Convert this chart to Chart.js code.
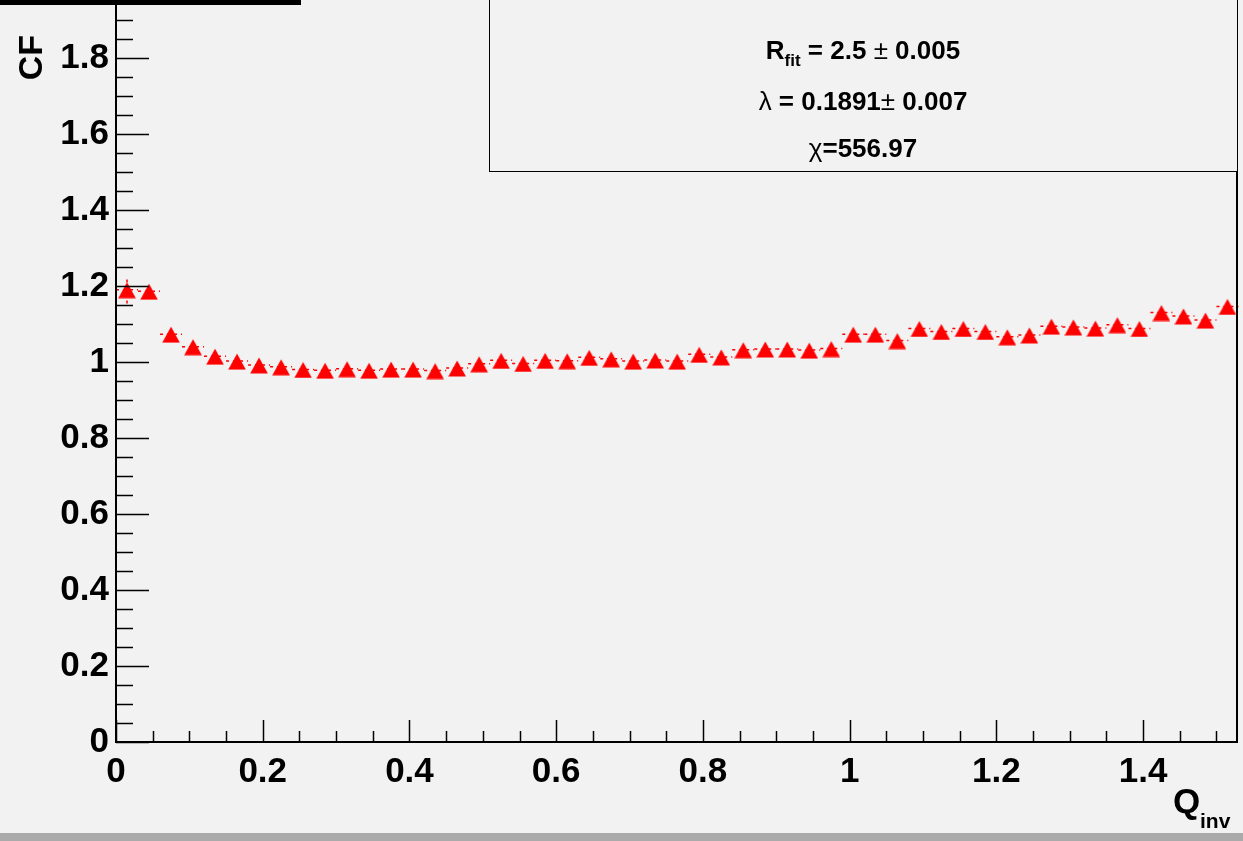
<!DOCTYPE html>
<html>
<head>
<meta charset="utf-8">
<script src="https://cdn.jsdelivr.net/npm/chart.js@4"></script>
<style>
  html, body { margin: 0; padding: 0; background: #f2f2f2; }
  #wrap { width: 1243px; height: 841px; position: relative; }
</style>
</head>
<body>
<div id="wrap"><canvas id="cf"></canvas></div>
<script>
// Data
const qInv = [0.015, 0.045, 0.075, 0.105, 0.135, 0.165, 0.195, 0.225, 0.255, 0.285,
  0.315, 0.345, 0.375, 0.405, 0.435, 0.465, 0.495, 0.525, 0.555, 0.585,
  0.615, 0.645, 0.675, 0.705, 0.735, 0.765, 0.795, 0.825, 0.855, 0.885,
  0.915, 0.945, 0.975, 1.005, 1.035, 1.065, 1.095, 1.125, 1.155, 1.185,
  1.215, 1.245, 1.275, 1.305, 1.335, 1.365, 1.395, 1.425, 1.455, 1.485, 1.515];
const cfValues = [1.191, 1.187, 1.074, 1.041, 1.016, 1.003, 0.993, 0.988, 0.981, 0.979,
  0.983, 0.979, 0.982, 0.982, 0.978, 0.985, 0.996, 1.005, 0.997, 1.005,
  1.004, 1.013, 1.009, 1.003, 1.006, 1.003, 1.021, 1.014, 1.033, 1.035,
  1.035, 1.032, 1.036, 1.074, 1.074, 1.057, 1.089, 1.081, 1.089, 1.081,
  1.067, 1.072, 1.095, 1.093, 1.090, 1.099, 1.089, 1.131, 1.122, 1.111, 1.147];
const cfErrors = [0.036, 0.015, 0.010, 0.008, 0.008, 0.008, 0.008, 0.008, 0.008, 0.008,
  0.008, 0.008, 0.008, 0.008, 0.008, 0.008, 0.008, 0.008, 0.008, 0.008,
  0.008, 0.008, 0.008, 0.008, 0.008, 0.008, 0.008, 0.008, 0.008, 0.008,
  0.008, 0.008, 0.008, 0.008, 0.008, 0.008, 0.008, 0.008, 0.008, 0.008,
  0.008, 0.008, 0.008, 0.008, 0.008, 0.008, 0.008, 0.008, 0.008, 0.008, 0.008];
const binHalfWidth = 0.015;
const xTicks = [0, 0.2, 0.4, 0.6, 0.8, 1, 1.2, 1.4];
const yTicks = [0, 0.2, 0.4, 0.6, 0.8, 1, 1.2, 1.4, 1.6, 1.8];

const FONT = '"Liberation Sans", Arial, Helvetica, sans-serif';

// Red up-triangle marker (centred like ROOT's marker)
const marker = document.createElement('canvas');
marker.width = 18; marker.height = 18;
(() => {
  const c = marker.getContext('2d');
  c.fillStyle = '#ff0000';
  c.beginPath();
  c.moveTo(9, 1.5);
  c.lineTo(17.8, 17.5);
  c.lineTo(0.2, 17.5);
  c.closePath();
  c.fill();
})();

// Background, frame pieces
const backdrop = {
  id: 'backdrop',
  beforeDraw(chart) {
    const ctx = chart.ctx;
    ctx.save();
    ctx.fillStyle = '#f2f2f2';
    ctx.fillRect(0, 0, chart.width, chart.height);
    ctx.fillStyle = '#aaaaaa';
    ctx.fillRect(0, 833, chart.width, chart.height - 833);
    ctx.restore();
  }
};

// Dashed error bars under the markers
const errorBars = {
  id: 'errorBars',
  beforeDatasetsDraw(chart) {
    const ctx = chart.ctx;
    const xs = chart.scales.x, ys = chart.scales.y;
    ctx.save();
    ctx.strokeStyle = '#ff0000';
    ctx.lineWidth = 1.5;
    ctx.setLineDash([3, 4]);
    qInv.forEach((q, i) => {
      const py = ys.getPixelForValue(cfValues[i]);
      ctx.beginPath();
      ctx.moveTo(xs.getPixelForValue(q - binHalfWidth), py);
      ctx.lineTo(xs.getPixelForValue(q + binHalfWidth), py);
      ctx.stroke();
      const px = xs.getPixelForValue(q);
      ctx.beginPath();
      ctx.moveTo(px, ys.getPixelForValue(cfValues[i] - cfErrors[i]));
      ctx.lineTo(px, ys.getPixelForValue(cfValues[i] + cfErrors[i]));
      ctx.stroke();
    });
    ctx.restore();
  }
};

// Inside ticks, frame, titles and the fit box
const decorations = {
  id: 'decorations',
  afterDraw(chart) {
    const ctx = chart.ctx;
    const xs = chart.scales.x, ys = chart.scales.y;
    const area = chart.chartArea;
    ctx.save();
    ctx.strokeStyle = '#000';

    // y axis line runs on to the top edge
    ctx.lineWidth = 2;
    ctx.beginPath();
    ctx.moveTo(area.left, 0);
    ctx.lineTo(area.left, area.bottom);
    ctx.stroke();

    ctx.lineWidth = 1.5;
    // y ticks: major every 0.2, minor every 0.05
    for (let k = 0; ys.getPixelForValue(k * 0.05) >= 0; k++) {
      const py = Math.round(ys.getPixelForValue(k * 0.05)) + 0.5;
      const len = k % 4 === 0 ? 33 : 17;
      ctx.beginPath();
      ctx.moveTo(area.left, py);
      ctx.lineTo(area.left + len, py);
      ctx.stroke();
    }
    // x ticks
    for (let k = 0; k * 0.05 <= xs.max + 1e-9; k++) {
      const px = Math.round(xs.getPixelForValue(k * 0.05)) + 0.5;
      const len = k % 4 === 0 ? 22 : 11;
      ctx.beginPath();
      ctx.moveTo(px, area.bottom);
      ctx.lineTo(px, area.bottom - len);
      ctx.stroke();
    }

    // right frame
    ctx.lineWidth = 2;
    ctx.beginPath();
    ctx.moveTo(area.right, 0);
    ctx.lineTo(area.right, area.bottom);
    ctx.stroke();

    // black bar at top left
    ctx.fillStyle = '#000';
    ctx.fillRect(0, 0, 301, 5);

    // axis titles
    ctx.fillStyle = '#000';
    ctx.font = 'bold 34px ' + FONT;
    ctx.save();
    ctx.translate(42, 35);
    ctx.rotate(-Math.PI / 2);
    ctx.textAlign = 'right';
    ctx.textBaseline = 'alphabetic';
    ctx.fillText('CF', 0, 0);
    ctx.restore();

    ctx.textAlign = 'left';
    ctx.textBaseline = 'alphabetic';
    ctx.font = 'bold 35px ' + FONT;
    ctx.fillText('Q', 1173, 813);
    ctx.font = 'bold 21px ' + FONT;
    ctx.fillText('inv', 1200, 828);

    // fit box
    ctx.fillStyle = '#f2f2f2';
    ctx.fillRect(489.5, -5, 748, 176);
    ctx.lineWidth = 1;
    ctx.strokeStyle = '#000';
    ctx.strokeRect(489.5, -5, 748, 176.5);

    const cx = 863;
    const drawLine = (parts, y) => {
      let w = 0;
      parts.forEach(p => { ctx.font = p.font; w += ctx.measureText(p.t).width; });
      let x = cx - w / 2;
      parts.forEach(p => {
        ctx.font = p.font;
        ctx.fillText(p.t, x, y + (p.dy || 0));
        x += ctx.measureText(p.t).width;
      });
    };
    ctx.fillStyle = '#000';
    const B = 'bold 26px ' + FONT, S = 'bold 17px ' + FONT, N = '26px ' + FONT;
    drawLine([{ t: 'R', font: B }, { t: 'fit', font: S, dy: 7 }, { t: ' = 2.5', font: B },
      { t: ' \u00b1 ', font: N }, { t: '0.005', font: B }], 59);
    drawLine([{ t: '\u03bb', font: N }, { t: ' = 0.1891', font: B },
      { t: '\u00b1 ', font: N }, { t: '0.007', font: B }], 110);
    drawLine([{ t: '\u03c7', font: N }, { t: '=556.97', font: B }], 157);

    ctx.restore();
  }
};

new Chart(document.getElementById('cf'), {
  type: 'scatter',
  data: {
    datasets: [{
      label: 'CF',
      data: qInv.map((q, i) => ({ x: q, y: cfValues[i] })),
      pointStyle: marker,
      // the image sets the marker size; keep radius tiny so no extra layout padding
      pointRadius: 0.5,
      pointHoverRadius: 0.5,
      pointBorderWidth: 0
    }]
  },
  options: {
    responsive: true,
    maintainAspectRatio: false,
    animation: false,
    events: [],
    layout: { padding: { top: 0, right: 6, left: 0, bottom: 0 } },
    plugins: { legend: { display: false }, tooltip: { enabled: false } },
    scales: {
      x: {
        type: 'linear',
        min: 0,
        max: 1.528,
        afterFit(scale) {
          scale.height = 99;
          scale.paddingLeft = 0;
          scale.paddingRight = 0;
        },
        afterBuildTicks(scale) { scale.ticks = xTicks.map(v => ({ value: v })); },
        grid: { display: false, drawTicks: false },
        border: { display: true, color: '#000', width: 2 },
        ticks: {
          color: '#000',
          padding: 9,
          maxRotation: 0,
          autoSkip: false,
          font: { family: FONT, size: 35, weight: 'bold' },
          callback: v => String(+v.toFixed(1))
        }
      },
      y: {
        type: 'linear',
        min: 0,
        max: 1.9526,
        afterFit(scale) {
          scale.width = 116;
          scale.paddingTop = 0;
          scale.paddingBottom = 0;
        },
        afterBuildTicks(scale) { scale.ticks = yTicks.map(v => ({ value: v })); },
        grid: { display: false, drawTicks: false },
        border: { display: true, color: '#000', width: 2 },
        ticks: {
          color: '#000',
          padding: 7,
          autoSkip: false,
          font: { family: FONT, size: 35, weight: 'bold' },
          callback: v => String(+v.toFixed(1))
        }
      }
    }
  },
  plugins: [backdrop, errorBars, decorations]
});
</script>
</body>
</html>
